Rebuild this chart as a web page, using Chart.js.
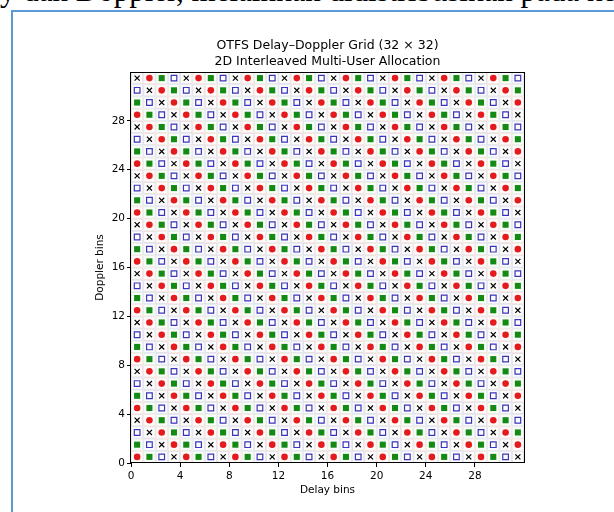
<!DOCTYPE html>
<html>
<head>
<meta charset="utf-8">
<script src="https://cdn.jsdelivr.net/npm/chart.js@4/dist/chart.umd.min.js"></script>
<style>
html,body{margin:0;padding:0;width:614px;height:512px;overflow:hidden;background:#fff;}
#toptext{position:absolute;left:0;top:-25px;font-family:"Liberation Serif","Times New Roman",serif;font-size:31px;line-height:31px;white-space:nowrap;color:#000;}
#box{position:absolute;left:11px;top:10px;width:640px;height:540px;border:2px solid #5b9bd5;box-sizing:border-box;}
#c{position:absolute;left:0;top:0;}
</style>
</head>
<body>
<div id="toptext">y dan Doppler, melainkan didistribusikan pada ke</div>
<div id="box"></div>
<canvas id="c" width="614" height="512"></canvas>
<script>
// ---- data ----
const users = ['User 1', 'User 2', 'User 3', 'User 4'];
const delayBins = 32;
const dopplerBins = 32;
const xTickValues = [0, 4, 8, 12, 16, 20, 24, 28];
const yTickValues = [0, 4, 8, 12, 16, 20, 24, 28];
const titleLines = ['OTFS Delay\u2013Doppler Grid (32 \u00d7 32)', '2D Interleaved Multi-User Allocation'];
const xLabel = 'Delay bins';
const yLabel = 'Doppler bins';
// row 0 = Doppler bin 0 (bottom); each character = user index for delay bins 0..31
const allocationRows = [
  "01230123012301230123012301230123",
  "12301230123012301230123012301230",
  "23012301230123012301230123012301",
  "30123012301230123012301230123012",
  "01230123012301230123012301230123",
  "12301230123012301230123012301230",
  "23012301230123012301230123012301",
  "30123012301230123012301230123012",
  "01230123012301230123012301230123",
  "12301230123012301230123012301230",
  "23012301230123012301230123012301",
  "30123012301230123012301230123012",
  "01230123012301230123012301230123",
  "12301230123012301230123012301230",
  "23012301230123012301230123012301",
  "30123012301230123012301230123012",
  "01230123012301230123012301230123",
  "12301230123012301230123012301230",
  "23012301230123012301230123012301",
  "30123012301230123012301230123012",
  "01230123012301230123012301230123",
  "12301230123012301230123012301230",
  "23012301230123012301230123012301",
  "30123012301230123012301230123012",
  "01230123012301230123012301230123",
  "12301230123012301230123012301230",
  "23012301230123012301230123012301",
  "30123012301230123012301230123012",
  "01230123012301230123012301230123",
  "12301230123012301230123012301230",
  "23012301230123012301230123012301",
  "30123012301230123012301230123012"
];

// ---- styles ----
const userStyles = [
  {pointStyle: 'circle', radius: 3.3, bg: '#e41a1c', border: '#e41a1c', bw: 0, cellRGB: '228,26,28'},
  {pointStyle: 'rect', radius: 4.3, bg: '#138a13', border: '#138a13', bw: 0, cellRGB: '0,128,0'},
  {pointStyle: 'rect', radius: 4.0, bg: 'rgba(0,0,0,0)', border: '#3a35b8', bw: 1.2, cellRGB: '40,40,190'},
  {pointStyle: 'crossRot', radius: 3.6, bg: '#000', border: '#000', bw: 1.2, cellRGB: '0,0,0'}
];

const datasets = users.map((name, u) => {
  const pts = [];
  allocationRows.forEach((row, r) => {
    for (let c = 0; c < row.length; c++) {
      if (Number(row[c]) === u) pts.push({x: c + 0.5, y: r + 0.5});
    }
  });
  const s = userStyles[u];
  return {
    label: name,
    data: pts,
    pointStyle: s.pointStyle,
    pointRadius: s.radius,
    pointBackgroundColor: s.bg,
    pointBorderColor: s.border,
    pointBorderWidth: s.bw,
    showLine: false
  };
});

const cellsAndFrame = {
  id: 'cellsAndFrame',
  beforeDatasetsDraw(chart) {
    const {ctx, scales: {x, y}} = chart;
    ctx.save();
    allocationRows.forEach((row, r) => {
      for (let c = 0; c < row.length; c++) {
        const s = userStyles[Number(row[c])];
        const x0 = x.getPixelForValue(c), x1 = x.getPixelForValue(c + 1);
        const y0 = y.getPixelForValue(r + 1), y1 = y.getPixelForValue(r);
        ctx.fillStyle = 'rgba(' + s.cellRGB + ',0.012)';
        ctx.fillRect(x0, y0, x1 - x0, y1 - y0);
        ctx.strokeStyle = 'rgba(' + s.cellRGB + ',0.13)';
        ctx.lineWidth = 0.8;
        ctx.strokeRect(x0 + 0.5, y0 + 0.5, x1 - x0 - 1, y1 - y0 - 1);
      }
    });
    ctx.restore();
  },
  afterDraw(chart) {
    const {ctx, chartArea: a} = chart;
    ctx.save();
    ctx.strokeStyle = '#000';
    ctx.lineWidth = 1;
    ctx.strokeRect(Math.round(a.left) - 0.5, Math.round(a.top) + 0.5, Math.round(a.right - a.left) + 1, Math.round(a.bottom - a.top) - 1);
    ctx.restore();
  }
};

const tickFont = {family: 'DejaVu Sans', size: 10.5};

new Chart(document.getElementById('c'), {
  type: 'scatter',
  data: {datasets},
  plugins: [cellsAndFrame],
  options: {
    responsive: false,
    animation: false,
    events: [],
    layout: {padding: {left: 94, right: 90, top: 38, bottom: 15}},
    plugins: {
      legend: {display: false},
      tooltip: {enabled: false},
      title: {
        display: true,
        text: titleLines,
        fullSize: false,
        color: '#000',
        font: {family: 'DejaVu Sans', size: 12.5, weight: 'normal', lineHeight: 1.28},
        padding: {top: 0, bottom: 2}
      }
    },
    scales: {
      x: {
        type: 'linear',
        min: 0,
        max: delayBins,
        afterBuildTicks: (s) => { s.ticks = xTickValues.map(v => ({value: v})); },
        afterFit: (s) => { s.height = 34; },
        ticks: {color: '#000', font: tickFont, padding: 3, maxRotation: 0, autoSkip: false, callback: (v) => String(v)},
        grid: {display: true, drawOnChartArea: false, drawTicks: true, tickLength: 4, tickColor: '#000', tickWidth: 1},
        border: {display: false},
        title: {display: true, text: xLabel, color: '#000', font: tickFont, padding: {top: 0, bottom: 0}}
      },
      y: {
        type: 'linear',
        min: 0,
        max: dopplerBins,
        afterBuildTicks: (s) => { s.ticks = yTickValues.map(v => ({value: v})); },
        afterFit: (s) => { s.width = 37; },
        ticks: {color: '#000', font: tickFont, padding: 2, autoSkip: false, callback: (v) => String(v)},
        grid: {display: true, drawOnChartArea: false, drawTicks: true, tickLength: 4, tickColor: '#000', tickWidth: 1},
        border: {display: false},
        title: {display: true, text: yLabel, color: '#000', font: tickFont, padding: {top: 0, bottom: 0}}
      }
    }
  }
});
</script>
</body>
</html>
